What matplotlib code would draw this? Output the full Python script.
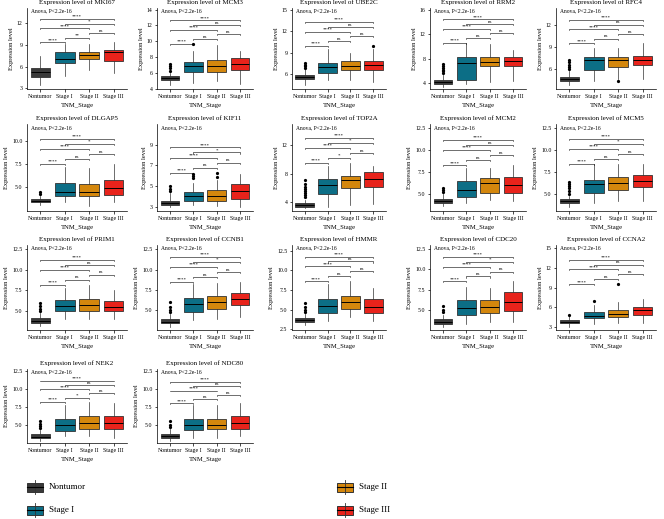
import numpy as np
import matplotlib.pyplot as plt
from matplotlib.patches import Rectangle

plt.rcParams['font.family'] = ['Liberation Serif', 'DejaVu Serif']

groups = ['Nontumor', 'Stage I', 'Stage II', 'Stage III']
colors = ['#3a3a3a', '#0c6e86', '#d4870d', '#e8231b']

genes = ['MKI67', 'MCM3', 'UBE2C', 'RRM2', 'RFC4',
         'DLGAP5', 'KIF11', 'TOP2A', 'MCM2', 'MCM5',
         'PRIM1', 'CCNB1', 'HMMR', 'CDC20', 'CCNA2',
         'NEK2', 'NDC80']

# box statistics per gene, one value per group (Nontumor, I, II, III)
whislo = [[3.4, 4.75, 5.5, 5.1], [4.5, 4.8, 5.0, 4.6], [4.4, 5.2, 5.2, 4.9], [3.4, 3.9, 4.2, 4.3], [3.8, 4.4, 4.6, 4.6],
          [3.0, 3.3, 2.9, 3.3], [3.0, 3.2, 3.1, 2.95], [3.25, 3.4, 3.6, 3.75], [3.55, 3.9, 4.3, 4.1], [3.5, 3.9, 4.1, 4.2],
          [3.2, 4.0, 4.0, 4.0], [3.0, 3.8, 4.0, 4.2], [3.0, 3.5, 4.0, 3.5], [2.9, 3.2, 3.5, 3.5], [3.0, 3.4, 3.5, 3.6],
          [2.8, 3.5, 3.5, 3.2], [2.8, 3.2, 3.2, 3.5]]
q1 = [[4.6, 6.45, 7.0, 6.8], [5.1, 6.1, 6.2, 6.45], [5.27, 6.2, 6.6, 6.6], [3.9, 4.4, 6.7, 6.8], [4.4, 5.9, 6.3, 6.5],
      [3.3, 3.9, 4.0, 4.05], [3.2, 3.6, 3.6, 3.8], [3.4, 5.25, 6.0, 6.1], [3.9, 4.6, 5.05, 5.05], [3.9, 5.05, 5.4, 5.8],
      [3.6, 5.0, 5.0, 5.0], [3.4, 4.8, 5.2, 5.7], [3.4, 4.5, 5.1, 4.5], [3.2, 4.4, 4.6, 4.8], [3.5, 4.3, 4.5, 4.8],
      [3.2, 4.2, 4.4, 4.4], [3.2, 4.3, 4.4, 4.5]]
med = [[5.2, 7.1, 7.6, 8.0], [5.35, 6.9, 6.9, 7.15], [5.55, 7.0, 7.2, 7.3], [4.15, 7.3, 7.5, 7.6], [4.6, 7.2, 7.2, 7.2],
       [3.45, 4.35, 4.45, 4.8], [3.35, 4.05, 4.05, 4.5], [3.6, 6.4, 7.15, 7.3], [4.1, 5.45, 6.2, 6.0], [4.2, 6.05, 6.25, 6.4],
       [3.8, 5.6, 5.7, 5.5], [3.6, 5.8, 6.0, 6.4], [3.7, 5.5, 5.9, 5.3], [3.5, 5.2, 5.4, 6.0], [3.7, 4.7, 5.0, 5.5],
       [3.4, 5.0, 5.3, 5.3], [3.5, 5.0, 5.0, 5.3]]
q3 = [[5.8, 8.0, 8.0, 8.3], [5.6, 7.36, 7.65, 7.9], [5.86, 7.6, 7.8, 7.9], [4.55, 8.2, 8.3, 8.3], [4.9, 7.6, 7.7, 7.8],
      [3.6, 5.4, 5.3, 5.75], [3.6, 4.4, 4.65, 5.2], [3.9, 7.35, 7.75, 8.2], [4.4, 6.5, 6.8, 6.9], [4.4, 6.6, 6.9, 7.1],
      [4.1, 6.3, 6.5, 6.2], [3.9, 6.5, 6.8, 7.1], [3.9, 6.4, 6.7, 6.3], [3.8, 6.2, 6.2, 7.2], [4.0, 5.2, 5.6, 6.0],
      [3.7, 5.8, 6.2, 6.2], [3.8, 5.8, 5.8, 6.3]]
whishi = [[7.4, 9.1, 9.1, 9.35], [6.05, 8.8, 9.5, 8.8], [6.77, 9.6, 8.9, 9.5], [5.3, 10.6, 10.4, 9.4], [5.8, 8.9, 8.9, 9.5],
          [4.0, 7.2, 7.0, 7.5], [4.3, 5.35, 5.55, 6.2], [4.4, 9.15, 9.55, 9.15], [5.0, 7.9, 7.9, 8.25], [4.75, 8.4, 8.4, 8.4],
          [4.7, 7.8, 8.2, 7.6], [4.5, 8.2, 8.3, 8.5], [4.4, 8.2, 8.6, 7.8], [4.4, 7.8, 7.7, 8.5], [4.6, 6.4, 6.8, 7.2],
          [4.3, 7.8, 8.2, 8.0], [4.4, 7.8, 7.8, 8.0]]
fliers = [[[], [], [], []],
          [[6.3, 6.6, 6.9, 7.2], [9.7], [], []],
          [[6.9, 7.1, 7.3, 7.5], [], [], [10.0]],
          [[5.6, 5.9, 6.2, 6.5, 6.8, 7.1], [], [], []],
          [[6.0, 6.3, 6.6, 6.9, 7.3], [], [4.4], []],
          [[4.2, 4.4], [], [], []],
          [[4.5, 4.7, 5.0], [5.8, 6.0, 6.2], [5.9, 6.3], []],
          [[4.7, 5.0, 5.3, 5.6, 5.9, 6.2, 6.6, 7.1], [], [], []],
          [[5.2, 5.4, 5.6], [], [], []],
          [[5.0, 5.3, 5.6, 5.9, 6.1, 6.3], [], [], []],
          [[5.0, 5.3, 5.6, 6.0], [], [], []],
          [[4.8, 5.1, 5.4, 6.0], [], [], []],
          [[4.7, 5.0, 5.3, 5.8], [], [], []],
          [[4.7, 5.0, 5.5], [], [], []],
          [[4.8], [7.0], [9.5], []],
          [[4.6, 4.9, 5.2, 5.5], [], [], []],
          [[4.7, 5.0, 5.5], [], [], []]]

pairs = [(1, 2), (2, 3), (3, 4), (1, 3), (2, 4), (1, 4)]
sig = [['****', '**', 'ns', '****', '*', '****'],
       ['****', 'ns', 'ns', '****', 'ns', '****'],
       ['****', 'ns', 'ns', '****', 'ns', '****'],
       ['****', 'ns', 'ns', '****', 'ns', '****'],
       ['****', 'ns', 'ns', '****', 'ns', '****'],
       ['****', 'ns', 'ns', '****', '*', '****'],
       ['****', 'ns', 'ns', '****', '*', '****'],
       ['****', '*', 'ns', '****', '*', '****'],
       ['****', 'ns', 'ns', '****', 'ns', '****'],
       ['****', 'ns', 'ns', '****', '*', '****'],
       ['****', 'ns', 'ns', '****', 'ns', '****'],
       ['****', 'ns', 'ns', '****', '*', '****'],
       ['****', 'ns', 'ns', '****', 'ns', '****'],
       ['****', 'ns', 'ns', '****', '*', '****'],
       ['****', 'ns', 'ns', '****', 'ns', '****'],
       ['****', '*', 'ns', '****', 'ns', '****'],
       ['****', 'ns', 'ns', '****', 'ns', '****']]

yticks = [[3, 6, 9, 12], [4, 6, 8, 10, 12, 14], [6, 9, 12, 15], [4, 8, 12, 16], [6, 9, 12],
          [5.0, 7.5, 10.0], [3, 5, 7, 9], [4, 8, 12], [5.0, 7.5, 10.0, 12.5], [5.0, 7.5, 10.0, 12.5],
          [5.0, 7.5, 10.0, 12.5], [5.0, 7.5, 10.0, 12.5], [2.5, 5.0, 7.5, 10.0, 12.5], [5.0, 7.5, 10.0, 12.5], [3, 6, 9, 12, 15],
          [5.0, 7.5, 10.0, 12.5], [5.0, 7.5, 10.0, 12.5]]
ylims = [(2.9, 14.1), (4.0, 14.2), (3.9, 15.3), (3.0, 16.3), (3.3, 14.3),
         (2.3, 11.9), (2.6, 11.0), (2.8, 15.0), (3.0, 13.0), (3.0, 13.0),
         (2.7, 13.0), (2.6, 13.0), (2.4, 13.2), (2.5, 13.0), (2.5, 15.5),
         (2.5, 12.8), (2.5, 12.8)]

W, H = 664, 519
fig = plt.figure(figsize=(W / 100, H / 100), dpi=100)

col_left = [27, 157, 292, 430, 556]
col_w = [100, 96, 94, 96, 100]
row_top = [8, 124, 245, 369]
row_bot = [89, 211, 330, 443]

for g, gene in enumerate(genes):
    r, c = divmod(g, 5)
    ax = fig.add_axes([col_left[c] / W, 1 - row_bot[r] / H, col_w[c] / W, (row_bot[r] - row_top[r]) / H])
    stats = []
    for k in range(4):
        stats.append(dict(whislo=whislo[g][k], q1=q1[g][k], med=med[g][k], q3=q3[g][k],
                          whishi=whishi[g][k], fliers=fliers[g][k]))
    bp = ax.bxp(stats, positions=[1, 2, 3, 4], widths=0.8, patch_artist=True, showcaps=False,
                boxprops=dict(linewidth=0.6, edgecolor='#333333'),
                medianprops=dict(color='black', linewidth=0.7),
                whiskerprops=dict(color='#333333', linewidth=0.5),
                flierprops=dict(marker='o', markersize=1.3, markerfacecolor='black',
                                markeredgecolor='black', linestyle='none'))
    for patch, col in zip(bp['boxes'], colors):
        patch.set_facecolor(col)

    y0, y1 = ylims[g]
    span = y1 - y0
    top = max(max(whishi[g]), max([max(f) for f in fliers[g][1:] if f] + [0]))
    step = 0.058 * span
    for k, (a, b) in enumerate(pairs):
        y = top + k * step
        ax.plot([a, a, b, b], [y - 0.012 * span, y, y, y - 0.012 * span], color='black', lw=0.4)
        ax.text((a + b) / 2, y + 0.003 * span, sig[g][k], ha='center', va='bottom', fontsize=3.6)
    ax.text(0.04, 0.99, 'Anova, P<2.2e-16', transform=ax.transAxes, ha='left', va='top', fontsize=4.0)

    ax.set_xlim(0.45, 4.55)
    ax.set_ylim(y0, y1)
    ax.set_yticks(yticks[g])
    if isinstance(yticks[g][0], float):
        ax.set_yticklabels(['%.1f' % v for v in yticks[g]])
    ax.set_xticks([1, 2, 3, 4])
    ax.set_xticklabels(groups)
    ax.tick_params(labelsize=4.2, length=1.8, width=0.5, pad=1.5)
    for s in ['top', 'right']:
        ax.spines[s].set_visible(False)
    for s in ['left', 'bottom']:
        ax.spines[s].set_linewidth(0.5)
    ax.set_title('Expression level of ' + gene, fontsize=5.0, pad=3)
    ax.set_xlabel('TNM_Stage', fontsize=4.8, labelpad=3)
    ax.set_ylabel('Expression level', fontsize=4.6, labelpad=2)

# legend
lax = fig.add_axes([0, 0, 1, 1])
lax.set_xlim(0, W)
lax.set_ylim(H, 0)
lax.axis('off')
leg_pos = [(27, 487), (27, 510), (337, 487), (337, 510)]
for (x, y), name, col in zip(leg_pos, groups, colors):
    lax.plot([x + 8, x + 8], [y - 7, y + 7], color='#333333', lw=0.6)
    lax.add_patch(Rectangle((x, y - 4.5), 16, 9, facecolor=col, edgecolor='#333333', lw=0.7))
    lax.plot([x, x + 16], [y, y], color='black', lw=0.8)
    lax.text(x + 22, y, name, ha='left', va='center', fontsize=6.5)

fig.savefig('out.png', dpi=100)
